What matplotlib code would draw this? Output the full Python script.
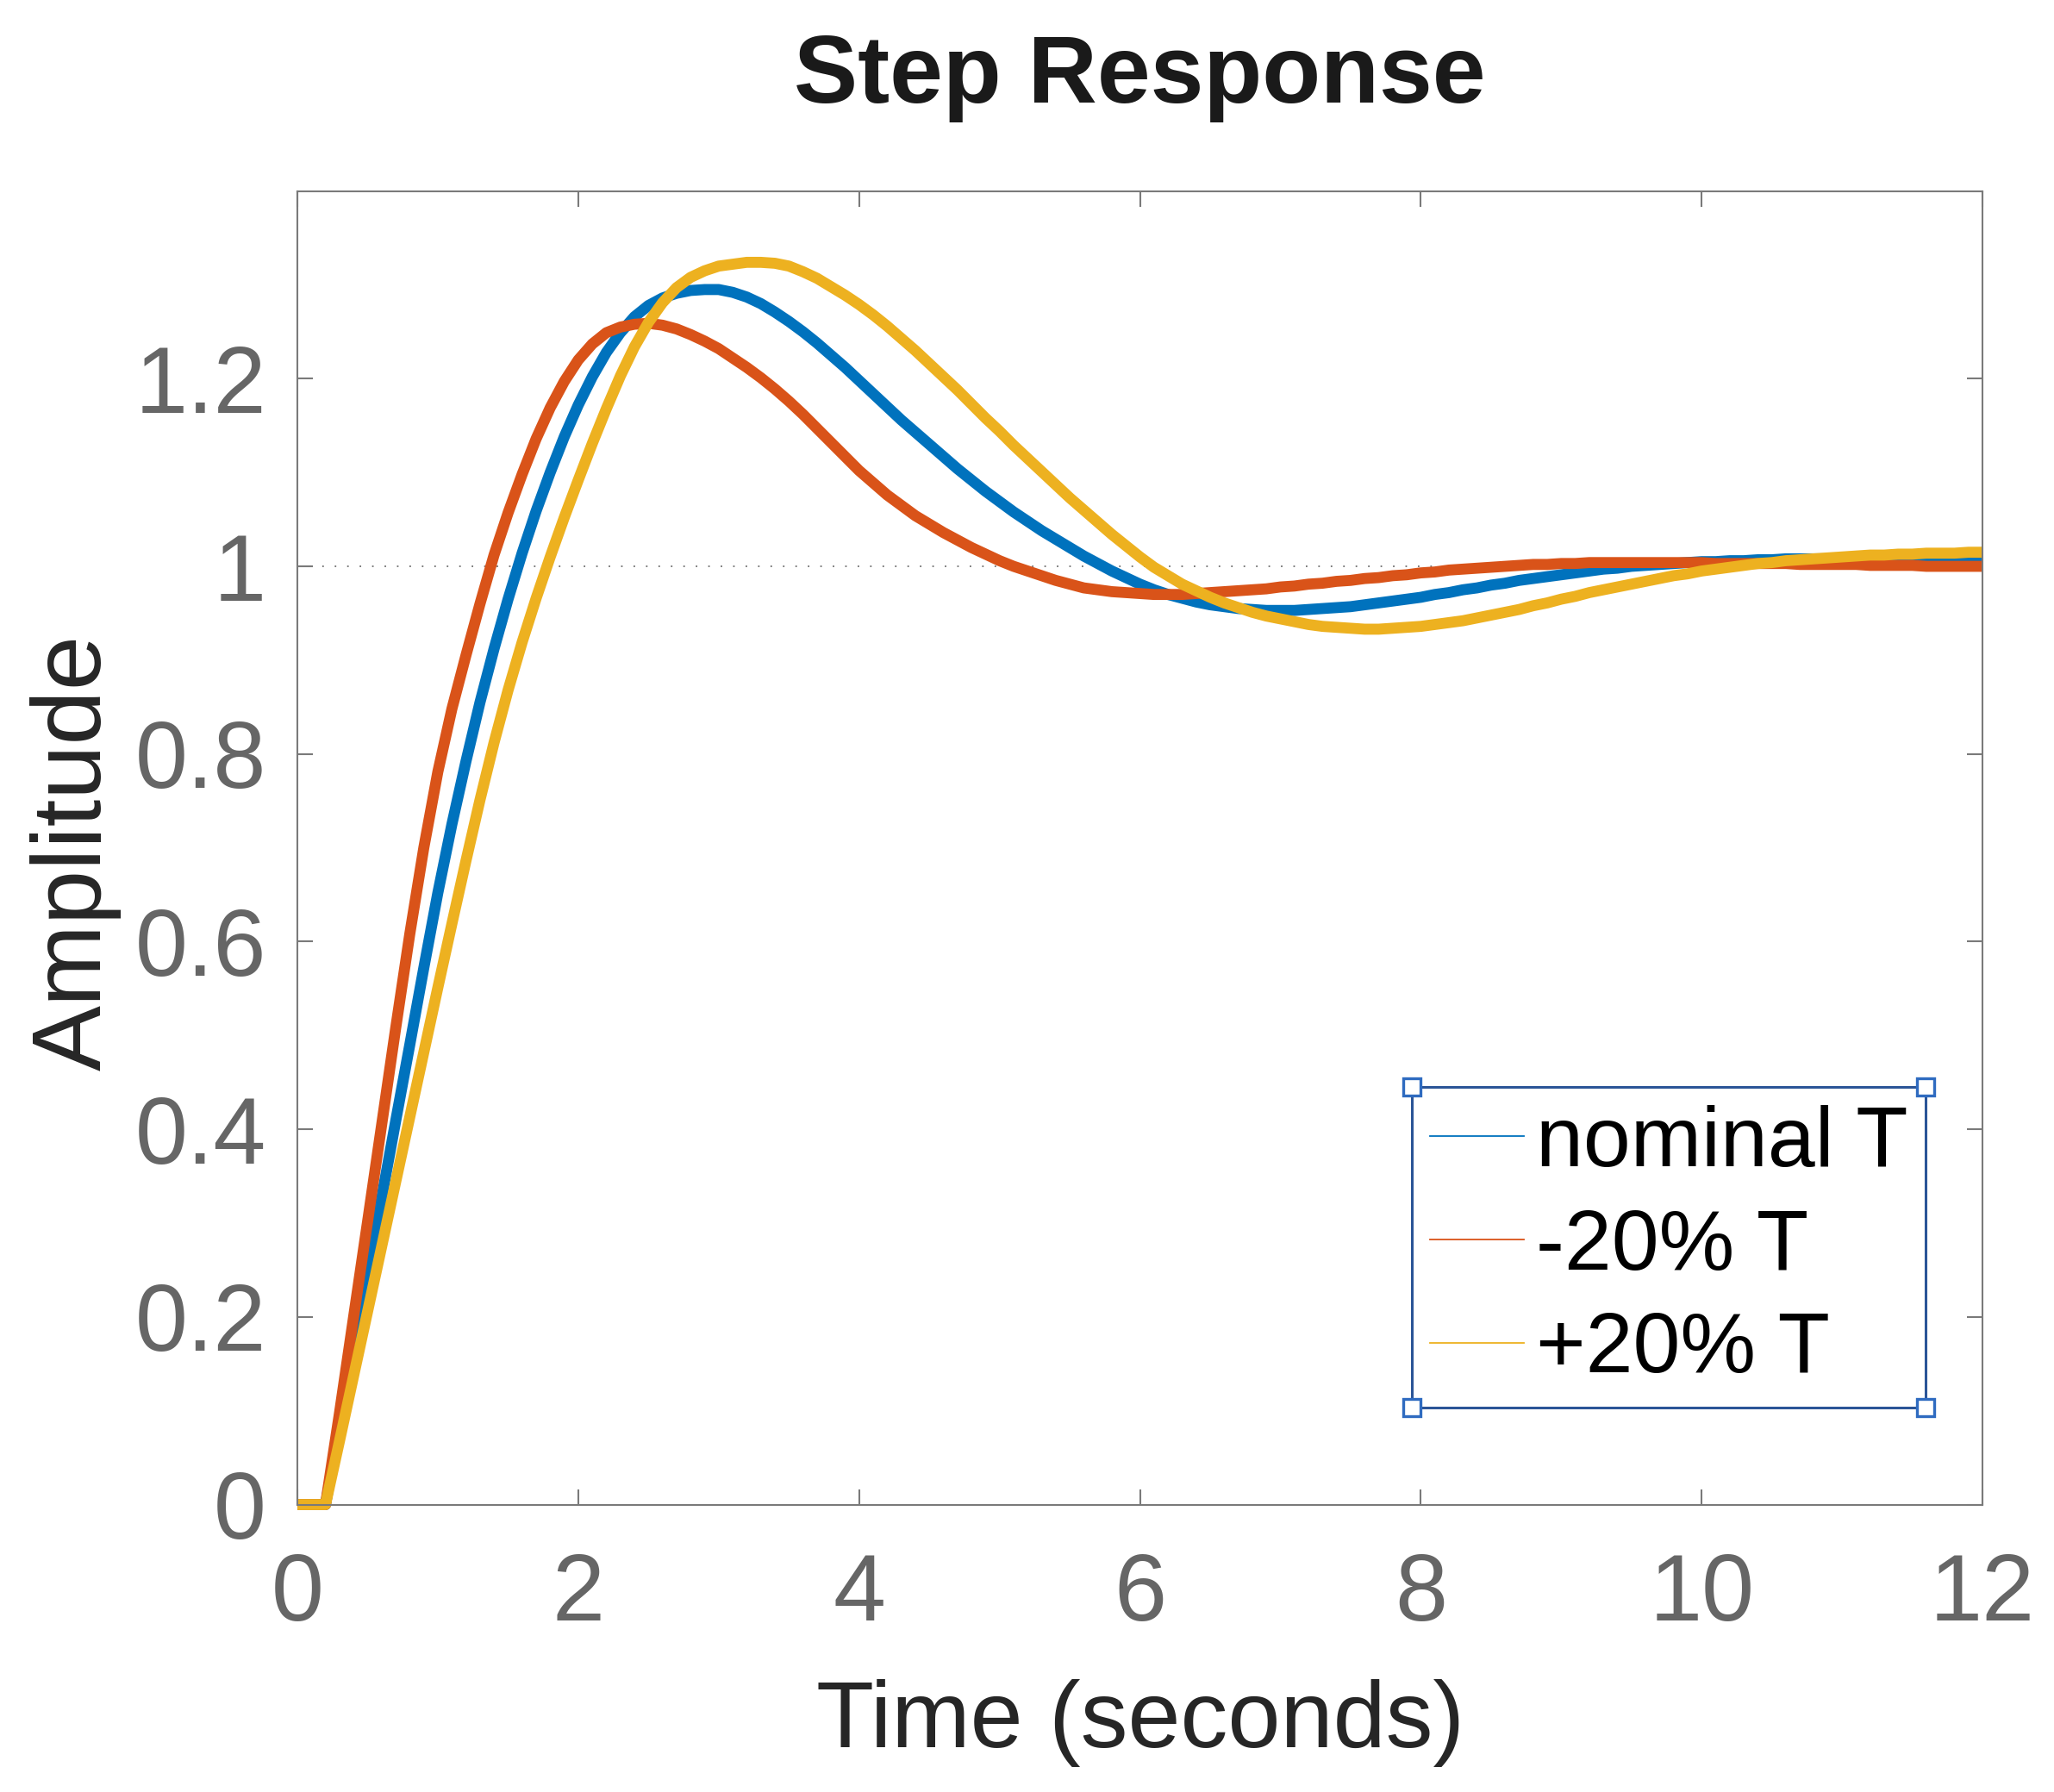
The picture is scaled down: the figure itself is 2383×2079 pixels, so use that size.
import numpy as np
import matplotlib
matplotlib.use('Agg')
import matplotlib.pyplot as plt
from matplotlib.lines import Line2D

plt.rcParams['font.family'] = ['Liberation Sans', 'DejaVu Sans']

# ---- data, t = 0 .. 12 s every 0.1 s ----
time_s = np.round(np.arange(0, 12.0001, 0.1), 1)

nominal = [
    0.000, 0.000, 0.000, 0.081, 0.163, 0.245, 0.327, 0.409, 0.490, 0.572,
    0.652, 0.725, 0.792, 0.855, 0.912, 0.965, 1.014, 1.059, 1.100, 1.138,
    1.172, 1.202, 1.228, 1.249, 1.266, 1.278, 1.286, 1.291, 1.294, 1.295,
    1.295, 1.292, 1.287, 1.280, 1.271, 1.261, 1.250, 1.238, 1.225, 1.212,
    1.198, 1.184, 1.170, 1.156, 1.143, 1.130, 1.117, 1.104, 1.092, 1.080,
    1.069, 1.058, 1.048, 1.038, 1.029, 1.020, 1.011, 1.003, 0.995, 0.988,
    0.981, 0.975, 0.970, 0.966, 0.962, 0.959, 0.957, 0.955, 0.954, 0.953,
    0.953, 0.953, 0.954, 0.955, 0.956, 0.957, 0.959, 0.961, 0.963, 0.965,
    0.967, 0.970, 0.972, 0.975, 0.977, 0.980, 0.982, 0.985, 0.987, 0.989,
    0.991, 0.993, 0.995, 0.997, 0.998, 1.000, 1.001, 1.002, 1.003, 1.004,
    1.005, 1.005, 1.006, 1.006, 1.007, 1.007, 1.008, 1.008, 1.008, 1.008,
    1.008, 1.008, 1.008, 1.008, 1.008, 1.007, 1.007, 1.007, 1.007, 1.007,
    1.006]

minus20 = [
    0.000, 0.000, 0.000, 0.098, 0.200, 0.302, 0.405, 0.508, 0.608, 0.700,
    0.781, 0.848, 0.905, 0.960, 1.012, 1.057, 1.098, 1.136, 1.169, 1.197,
    1.220, 1.237, 1.249, 1.255, 1.258, 1.259, 1.257, 1.253, 1.247, 1.240,
    1.232, 1.222, 1.212, 1.201, 1.189, 1.176, 1.162, 1.147, 1.132, 1.117,
    1.102, 1.089, 1.076, 1.065, 1.054, 1.045, 1.036, 1.028, 1.020, 1.013,
    1.006, 1.000, 0.995, 0.990, 0.985, 0.981, 0.977, 0.975, 0.973, 0.972,
    0.971, 0.970, 0.970, 0.970, 0.971, 0.972, 0.973, 0.974, 0.975, 0.976,
    0.978, 0.979, 0.981, 0.982, 0.984, 0.985, 0.987, 0.988, 0.990, 0.991,
    0.993, 0.994, 0.996, 0.997, 0.998, 0.999, 1.000, 1.001, 1.002, 1.002,
    1.003, 1.003, 1.004, 1.004, 1.004, 1.004, 1.004, 1.004, 1.004, 1.004,
    1.004, 1.003, 1.003, 1.003, 1.003, 1.003, 1.003, 1.002, 1.002, 1.002,
    1.002, 1.002, 1.001, 1.001, 1.001, 1.001, 1.000, 1.000, 1.000, 1.000,
    1.000]

plus20 = [
    0.000, 0.000, 0.000, 0.068, 0.137, 0.206, 0.275, 0.344, 0.413, 0.482,
    0.551, 0.619, 0.686, 0.751, 0.812, 0.868, 0.919, 0.966, 1.010, 1.052,
    1.092, 1.131, 1.168, 1.203, 1.234, 1.260, 1.281, 1.297, 1.308, 1.315,
    1.320, 1.322, 1.324, 1.324, 1.323, 1.320, 1.314, 1.307, 1.298, 1.289,
    1.279, 1.268, 1.256, 1.243, 1.230, 1.216, 1.202, 1.188, 1.173, 1.158,
    1.144, 1.129, 1.115, 1.101, 1.087, 1.073, 1.060, 1.047, 1.034, 1.022,
    1.010, 0.999, 0.990, 0.981, 0.974, 0.967, 0.961, 0.956, 0.951, 0.947,
    0.944, 0.941, 0.938, 0.936, 0.935, 0.934, 0.933, 0.933, 0.934, 0.935,
    0.936, 0.938, 0.940, 0.942, 0.945, 0.948, 0.951, 0.954, 0.958, 0.961,
    0.965, 0.968, 0.972, 0.975, 0.978, 0.981, 0.984, 0.987, 0.990, 0.992,
    0.995, 0.997, 0.999, 1.001, 1.003, 1.004, 1.006, 1.007, 1.008, 1.009,
    1.010, 1.011, 1.012, 1.012, 1.013, 1.013, 1.014, 1.014, 1.014, 1.015,
    1.015]

series_labels = ['nominal T', '-20% T', '+20% T']
series_colors = ['#0072BD', '#D95319', '#EDB120']
x_ticks = [0, 2, 4, 6, 8, 10, 12]
y_ticks = [0, 0.2, 0.4, 0.6, 0.8, 1, 1.2]
y_tick_labels = ['0', '0.2', '0.4', '0.6', '0.8', '1', '1.2']

# ---- figure ----
fig = plt.figure(figsize=(23.83, 20.79), dpi=100)
ax = fig.add_axes([0.1448, 0.1604, 0.8204, 0.7330])

ax.axhline(1.0, color='#6e6e6e', lw=1.3, ls=(0, (1, 7)), zorder=1)

for ys, c in zip([nominal, minus20, plus20], series_colors):
    ax.plot(time_s, ys, color=c, lw=9.2, solid_joinstyle='round',
            solid_capstyle='butt', zorder=2, clip_on=False)

ax.set_xlim(0, 12)
ax.set_ylim(0, 1.4)
ax.set_xticks(x_ticks)
ax.set_xticklabels([str(v) for v in x_ticks])
ax.set_yticks(y_ticks)
ax.set_yticklabels(y_tick_labels)

axis_gray = '#7a7a7a'
for sp in ax.spines.values():
    sp.set_color(axis_gray)
    sp.set_linewidth(1.5)

ax.tick_params(axis='both', which='major', direction='in', length=13.3,
               width=1.5, color=axis_gray, labelcolor='#666666',
               labelsize=79, top=True, right=True)
ax.tick_params(axis='y', pad=26)
ax.tick_params(axis='x', pad=40)

ax.set_title('Step Response', fontsize=80, fontweight='bold',
             color='#1a1a1a', pad=74)
ax.set_xlabel('Time (seconds)', fontsize=79, color='#262626')
ax.xaxis.set_label_coords(0.5, -0.1328)
ax.set_ylabel('Amplitude', fontsize=82, color='#262626')
ax.yaxis.set_label_coords(-0.1043, 0.4965)

handles = [Line2D([], [], color=c, lw=1.3) for c in series_colors]
leg = ax.legend(handles, series_labels, loc='lower right',
                bbox_to_anchor=(0.9662, 0.0739), borderaxespad=0,
                fontsize=71, handlelength=1.11, handletextpad=0.14,
                borderpad=0.21, labelspacing=0.29, frameon=True,
                fancybox=False, edgecolor='#2b5597', facecolor='white',
                framealpha=1)
leg.get_frame().set_linewidth(2.2)
for txt in leg.get_texts():
    txt.set_color('black')

fig.canvas.draw()
bb = leg.get_frame().get_window_extent(fig.canvas.get_renderer())
bb = bb.transformed(fig.transFigure.inverted())
fig.add_artist(Line2D([bb.x0, bb.x1, bb.x0, bb.x1],
                      [bb.y0, bb.y0, bb.y1, bb.y1],
                      transform=fig.transFigure, ls='none', marker='s',
                      ms=15, mfc='white', mec='#2f6bc0', mew=2.4, zorder=10))

fig.savefig('out.png', dpi=100)
